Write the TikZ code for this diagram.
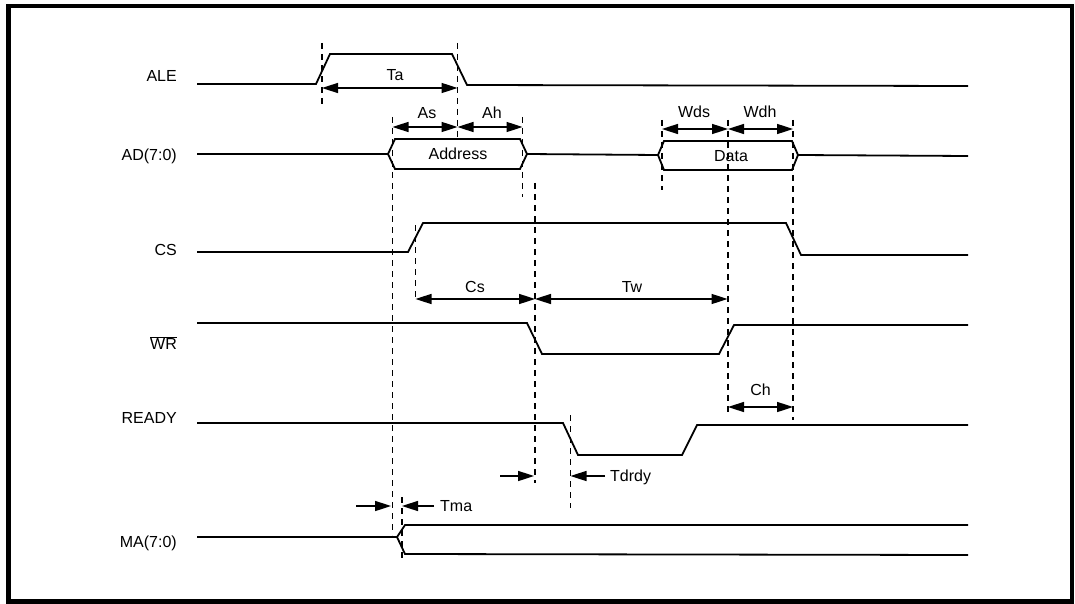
\documentclass[tikz,border=0pt]{standalone}
\usepackage{fontspec}
\setmainfont{Liberation Sans}
\usetikzlibrary{arrows.meta,calc}
\tikzstyle{sig}=[line width=1.8pt, line join=miter]
\tikzstyle{guide}=[line width=1.1pt, dash pattern=on 6pt off 5pt]
\tikzstyle{dim}=[line width=1.6pt,
                 {Triangle[length=16pt,width=10pt]}-{Triangle[length=16pt,width=10pt]}]
\tikzstyle{half}=[line width=1.6pt, -{Triangle[length=16pt,width=10pt]}]
\tikzstyle{signame}=[anchor=east, inner sep=0pt, font=\fontsize{16}{19}\selectfont]
\tikzstyle{lbl}=[inner sep=0pt, font=\fontsize{16}{19}\selectfont]

\begin{document}
\begin{tikzpicture}[x=1pt,y=-1pt]
      \useasboundingbox (0,0) rectangle (1075,604);
      \draw[line width=4.5pt] (8.5,6) rectangle (1072,601.5);

      % signal names
      \node [signame] (ale)   at (177,76)  {ALE};
      \node [signame] (ad)    at (177,156) {AD(7:0)};
      \node [signame] (cs)    at (177,250) {CS};
      \node [signame] (wr)    at (177,343) {$\overline{\mbox{WR}}$};
      \node [signame] (ready) at (177,418) {READY};
      \node [signame] (ma)    at (177,543) {MA(7:0)};

      % waveforms
      \draw [sig] (197,84) -- (316,84) -- (330,54) -- (452,54) -- (467,85) -- (968,86);
      \draw [sig] (197,154) -- (388,154) -- (395,139) -- (520,139) -- (527,154)
                  -- (520,169) -- (395,169) -- (388,154);
      \draw [sig] (527,154) -- (658,155) -- (664,141) -- (792,141) -- (798,155)
                  -- (792,170) -- (664,170) -- (658,155);
      \draw [sig] (798,155) -- (968,156);
      \draw [sig] (197,252) -- (408,252) -- (423,223) -- (786,223) -- (801,255) -- (968,255);
      \draw [sig] (197,323) -- (527,323) -- (542,354) -- (719,354) -- (734,325) -- (968,325);
      \draw [sig] (197,423) -- (563,423) -- (578,455) -- (682,455) -- (697,425) -- (968,425);
      \draw [sig] (197,537) -- (397,537) -- (405,525) -- (968,525);
      \draw [sig] (397,537) -- (405,554) -- (968,555);

      \node [lbl] (addr) at (458,154) {Address};
      \node [lbl] (data) at (731,156) {Data};

      % timing guides
      \draw [guide] (322,43) -- (322,107);
      \draw [guide] (457.5,43) -- (457.5,140);
      \draw [guide] (392.5,117) -- (392.5,535);
      \draw [guide] (522.5,117) -- (522.5,197);
      \draw [guide] (535,183) -- (535,483);
      \draw [guide] (415.5,225) -- (415.5,300);
      \draw [guide] (662,120) -- (662,190);
      \draw [guide] (728,120) -- (728,415);
      \draw [guide] (793,120) -- (793,420);
      \draw [guide] (570.5,415) -- (570.5,508);
      \draw [guide] (402,497) -- (402,562);

      % intervals
      \coordinate (ta1) at (322,88);    \coordinate (ta2) at (457.5,88);
      \coordinate (as1) at (392.5,127); \coordinate (as2) at (457.5,127);
      \coordinate (ah2) at (522.5,127);
      \coordinate (wd1) at (662,129);   \coordinate (wd2) at (728,129);
      \coordinate (wd3) at (793,129);
      \coordinate (cs1) at (415.5,299); \coordinate (cs2) at (535,299);
      \coordinate (tw2) at (727.5,299);
      \coordinate (ch1) at (728,407);   \coordinate (ch2) at (793,407);

      \draw [dim] (ta1) -- (ta2);
      \draw [dim] (as1) -- (as2);
      \draw [dim] (as2) -- (ah2);
      \draw [dim] (wd1) -- (wd2);
      \draw [dim] (wd2) -- (wd3);
      \draw [dim] (cs1) -- (cs2);
      \draw [dim] (cs2) -- (tw2);
      \draw [dim] (ch1) -- (ch2);

      \node [lbl] (lta)  at (395,75)  {Ta};
      \node [lbl] (las)  at (427,113) {As};
      \node [lbl] (lah)  at (492,113) {Ah};
      \node [lbl] (lwds) at (694,112) {Wds};
      \node [lbl] (lwdh) at (760,112) {Wdh};
      \node [lbl] (lcs)  at (475,287) {Cs};
      \node [lbl] (ltw)  at (632,287) {Tw};
      \node [lbl] (lch)  at (760.5,390) {Ch};

      % one-sided delays
      \coordinate (rd1) at (500,476);   \coordinate (rd2) at (534,476);
      \coordinate (rd3) at (605,476);   \coordinate (rd4) at (570.5,476);
      \coordinate (ma1) at (356,506);   \coordinate (ma2) at (391,506);
      \coordinate (ma3) at (434,506);   \coordinate (ma4) at (402,506);
      \draw [half] (rd1) -- (rd2);
      \draw [half] (rd3) -- (rd4);
      \draw [half] (ma1) -- (ma2);
      \draw [half] (ma3) -- (ma4);
      \node [lbl, anchor=west] (ltdrdy) at (610,477) {Tdrdy};
      \node [lbl, anchor=west] (ltma)   at (440,506) {Tma};
\end{tikzpicture}
\end{document}
